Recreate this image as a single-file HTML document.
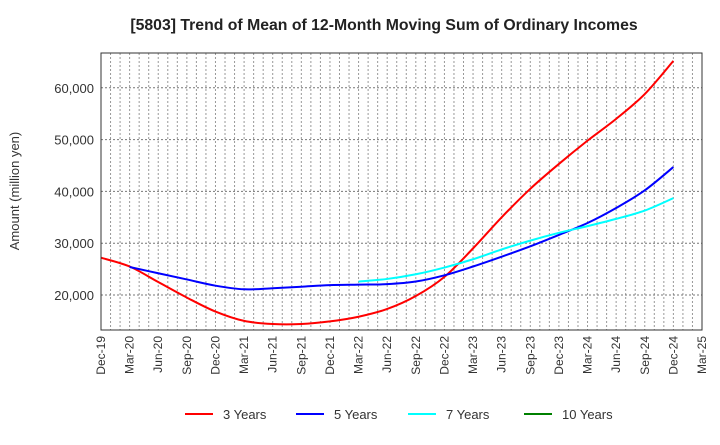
<!DOCTYPE html>
<html><head><meta charset="utf-8"><style>
body{margin:0;background:#fff;font-family:"Liberation Sans",sans-serif}
svg text{font-family:"Liberation Sans",sans-serif}
</style></head><body>
<svg width="720" height="440">
<text x="384" y="30" text-anchor="middle" font-weight="bold" font-size="15.8" fill="#222">[5803]  Trend of Mean of 12-Month Moving Sum of Ordinary Incomes</text>
<g id="grid"></g>
<g id="series"></g>
<rect x="101" y="53" width="601" height="277" fill="none" stroke="#333"/>
<g id="axes"></g>
<text transform="translate(19,191) rotate(-90)" text-anchor="middle" font-size="13" fill="#333">Amount (million yen)</text>
<g id="legend"></g>
</svg>
<script>
const xLabels=["Dec-19","Mar-20","Jun-20","Sep-20","Dec-20","Mar-21","Jun-21","Sep-21","Dec-21","Mar-22","Jun-22","Sep-22","Dec-22","Mar-23","Jun-23","Sep-23","Dec-23","Mar-24","Jun-24","Sep-24","Dec-24","Mar-25"];
const yTicks=[20000,30000,40000,50000,60000];
const s3=[27200,25500,22500,19500,16800,15000,14400,14400,14900,15800,17300,19800,23500,29000,35000,40500,45300,49800,54000,58800,65200];
const s5=[25400,24200,23000,21800,21100,21300,21600,21900,22000,22100,22600,23800,25500,27400,29400,31600,33900,36800,40200,44700];
const s7=[22600,23100,24000,25300,26900,28800,30500,32000,33300,34700,36300,38700];
const s10=[];
const seriesNames=["3 Years","5 Years","7 Years","10 Years"];
const colors=["#ff0000","#0000ff","#00ffff","#008000"];
const starts=[0,1,9,0];
const NS="http://www.w3.org/2000/svg";
const X0=101,X1=702,Y0=330,Y1=53;
const months=63;
const xm=m=>X0+m*(X1-X0)/months;
const xq=q=>xm(q*3);
const y=v=>295-(v-20000)/10000*51.8;
function mk(t,a,p){const e=document.createElementNS(NS,t);for(const k in a)e.setAttribute(k,a[k]);p.appendChild(e);return e;}
const grid=document.getElementById('grid'),axes=document.getElementById('axes');
for(let m=1;m<months;m++){const l=mk('line',{x1:xm(m),x2:xm(m),y1:Y1,y2:Y0,stroke:'#999','stroke-dasharray':'2,2','stroke-width':1},grid);

}
yTicks.forEach(v=>{const l=mk('line',{x1:X0,x2:X1,y1:y(v),y2:y(v),stroke:'#777','stroke-dasharray':'2,2'},grid);


const t=mk('text',{x:X0-7,y:y(v)+5,'text-anchor':'end','font-size':13,fill:'#333'},axes);t.textContent=v.toLocaleString('en-US');

});
xLabels.forEach((s,i)=>{const x=xq(i);const t=mk('text',{transform:`translate(${x+4},${Y0+6}) rotate(-90)`,'text-anchor':'end','font-size':12,fill:'#333'},axes);t.textContent=s;

});
function path(pts){let d=`M${pts[0][0]},${pts[0][1]}`;for(let i=0;i<pts.length-1;i++){const p0=pts[Math.max(i-1,0)],p1=pts[i],p2=pts[i+1],p3=pts[Math.min(i+2,pts.length-1)];
d+=` C${p1[0]+(p2[0]-p0[0])/6},${p1[1]+(p2[1]-p0[1])/6} ${p2[0]-(p3[0]-p1[0])/6},${p2[1]-(p3[1]-p1[1])/6} ${p2[0]},${p2[1]}`;}return d;}
const sg=document.getElementById('series');
[s3,s5,s7,s10].forEach((s,k)=>{if(!s.length)return;const pts=s.map((v,i)=>[xq(i+starts[k]),y(v)]);
const p=mk('path',{d:path(pts),fill:'none',stroke:colors[k],'stroke-width':2},sg);

});
const lg=document.getElementById('legend');const lx=[185,296,408,524];
seriesNames.forEach((n,k)=>{const g=mk('g',{},lg);


mk('line',{x1:lx[k],x2:lx[k]+28,y1:414,y2:414,stroke:colors[k],'stroke-width':2},g);
const t=mk('text',{x:lx[k]+38,y:419,'font-size':13,fill:'#333'},g);t.textContent=n;});
</script>
</body></html>
